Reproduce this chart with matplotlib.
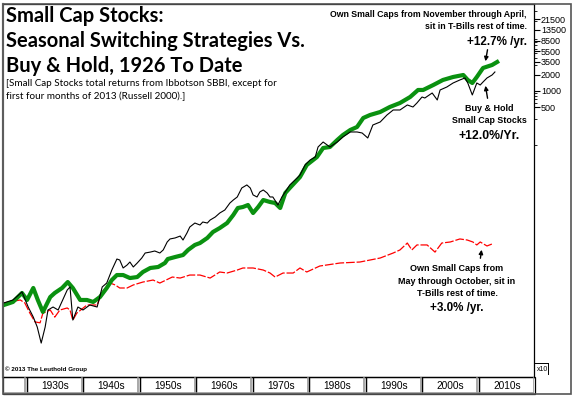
import matplotlib
matplotlib.use("Agg")
import matplotlib.pyplot as plt
from matplotlib.patches import Rectangle
from matplotlib.ticker import FixedLocator, NullFormatter

# growth of $1 (right-axis labels are shown x10)
bh_years = [1926.0, 1927.6, 1929.2, 1930.3, 1931.2, 1931.9, 1932.6, 1933.3, 1933.8, 1934.7,
            1935.6, 1937.2, 1937.7, 1938.2, 1939.1, 1940.0, 1941.2, 1942.5, 1943.4, 1944.2,
            1945.1, 1946.0, 1946.5, 1947.1, 1947.8, 1948.3, 1948.9, 1949.6, 1950.4, 1951.0,
            1951.9, 1952.7, 1953.6, 1954.2, 1954.9, 1955.4, 1956.3, 1957.2, 1957.7, 1958.4,
            1958.9, 1959.8, 1960.7, 1961.2, 1962.0, 1962.5, 1963.4, 1964.2, 1965.1, 1966.0,
            1966.6, 1967.3, 1968.1, 1969.0, 1969.6, 1970.1, 1970.8, 1971.3, 1971.9, 1972.6,
            1973.1, 1973.6, 1974.5, 1975.2, 1975.8, 1976.6, 1977.9, 1978.4, 1979.3, 1980.2,
            1981.1, 1981.6, 1982.5, 1983.7, 1985.0, 1986.0, 1987.3, 1988.5, 1989.4, 1990.4,
            1991.3, 1992.6, 1993.8, 1994.9, 1996.1, 1997.4, 1998.4, 1999.1, 2000.0, 2000.5,
            2001.8, 2002.7, 2003.2, 2004.4, 2005.5, 2006.7, 2007.6, 2008.1, 2008.9, 2009.7,
            2010.3, 2010.8, 2011.5, 2012.4, 2012.9]
bh_values = [1.19, 1.35, 1.90, 1.00, 0.652, 0.426, 0.215, 0.426, 0.880, 1.00,
             0.880, 2.06, 2.35, 0.574, 1.00, 0.880, 1.09, 1.00, 2.35, 2.78,
             4.84, 7.74, 7.42, 5.28, 5.99, 6.81, 5.51, 6.53, 8.08, 10.0,
             10.4, 10.9, 10.0, 11.4, 16.0, 18.2, 19.0, 20.6, 17.4, 23.5,
             30.3, 35.9, 33.0, 37.5, 35.9, 40.8, 46.4, 55.0, 62.6, 84.3,
             95.8, 109, 160, 182, 160, 119, 109, 135, 147, 129,
             109, 109, 77.4, 109, 135, 182, 245, 278, 426, 528,
             599, 918, 1136, 918, 1136, 1407, 1742, 1742, 1668, 1348,
             2346, 2667, 3594, 4448, 4448, 5508, 5054, 5995, 7743, 7413,
             9180, 6813, 10440, 11860, 14060, 15990, 17410, 14060, 8437, 14060,
             12910, 14680, 17410, 19780, 22480]

winter_years = [1926.0, 1927.6, 1929.2, 1930.1, 1931.2, 1932.0, 1932.9, 1934.2, 1935.0, 1936.3,
                1937.3, 1938.2, 1939.5, 1940.7, 1941.8, 1943.0, 1944.2, 1945.1, 1946.0, 1947.1,
                1948.3, 1949.6, 1950.6, 1951.9, 1953.3, 1954.5, 1955.0, 1956.3, 1957.7, 1958.6,
                1959.8, 1960.7, 1962.0, 1963.0, 1964.2, 1965.5, 1966.6, 1967.4, 1968.3, 1969.2,
                1970.1, 1971.0, 1971.9, 1973.1, 1974.0, 1974.9, 1975.8, 1976.6, 1978.4, 1979.6,
                1981.4, 1982.5, 1983.7, 1985.0, 1986.0, 1987.3, 1988.5, 1989.6, 1990.8, 1992.6,
                1994.3, 1996.1, 1997.9, 1999.3, 2000.2, 2002.0, 2003.7, 2005.5, 2007.3, 2008.1,
                2008.9, 2009.7, 2010.8, 2012.4, 2013.3]
winter_values = [1.09, 1.24, 1.82, 1.35, 2.25, 1.35, 0.81, 1.53, 1.82, 2.25,
                 2.90, 2.25, 1.35, 1.35, 1.24, 1.53, 2.25, 3.16, 3.91, 3.91,
                 3.44, 3.59, 4.45, 5.28, 5.51, 6.53, 7.74, 8.43, 9.18, 11.4,
                 14.1, 15.3, 19.0, 24.5, 29.0, 35.9, 50.6, 68.1, 71.1, 77.4,
                 55.0, 71.1, 95.8, 88.0, 84.3, 68.1, 129, 160, 255, 426,
                 599, 880, 918, 1238, 1531, 1896, 2154, 3162, 3594, 4084,
                 5054, 5995, 7743, 10440, 10440, 12910, 15990, 18160, 19780, 15990,
                 14060, 18160, 26670, 30300, 34440]

summer_years = [1926.0, 1928.9, 1929.7, 1930.6, 1931.5, 1932.4, 1932.9, 1934.2, 1935.0, 1935.9,
                1937.2, 1937.7, 1938.2, 1938.9, 1940.7, 1942.5, 1943.4, 1944.8, 1945.7, 1946.5,
                1947.8, 1948.9, 1950.6, 1952.4, 1953.6, 1955.8, 1957.2, 1958.9, 1960.7, 1962.5,
                1964.2, 1965.5, 1967.3, 1968.3, 1970.1, 1971.9, 1973.1, 1974.0, 1975.4, 1977.2,
                1978.4, 1979.6, 1981.9, 1985.5, 1989.0, 1992.6, 1994.9, 1996.1, 1997.4, 1998.2,
                1999.1, 2000.9, 2002.3, 2003.5, 2005.0, 2006.7, 2008.0, 2009.0, 2009.7, 2010.3,
                2011.5, 2012.4]
summer_values = [1.19, 1.35, 1.19, 0.77, 0.53, 0.51, 0.77, 0.88, 0.65, 0.88,
                 0.96, 0.88, 0.57, 0.77, 1.09, 1.09, 1.90, 2.78, 2.56, 2.25,
                 2.25, 2.56, 2.90, 3.16, 2.78, 3.59, 3.44, 3.91, 3.91, 3.44,
                 4.45, 4.26, 4.84, 5.28, 5.28, 4.84, 4.26, 3.59, 4.26, 4.26,
                 5.28, 4.45, 5.74, 6.53, 6.81, 8.08, 10.0, 11.4, 15.3, 11.4,
                 14.1, 14.1, 10.4, 15.3, 16.0, 18.2, 17.4, 16.0, 14.1, 16.0,
                 13.5, 14.7]

tick_labels = ["500", "1000", "2000", "3500", "5500", "8500", "13500", "21500"]
decades = ["1930s", "1940s", "1950s", "1960s", "1970s", "1980s", "1990s", "2000s", "2010s"]

assert len(bh_years) == len(bh_values)
assert len(winter_years) == len(winter_values)
assert len(summer_years) == len(summer_values)

W, H = 574, 397
fig = plt.figure(figsize=(W / 100, H / 100), dpi=100)
plt.rcParams["font.family"] = ["Liberation Sans", "DejaVu Sans"]

x0, x1 = 1925.84, 2019.82
ax = fig.add_axes([3 / W, 1 - 377 / H, 531 / W, 373 / H])
ax.plot(summer_years, summer_values, color="#ff0000", lw=0.9, dashes=(7, 1.5), zorder=2)
ax.plot(winter_years, winter_values, color="#0a9110", lw=3.0, zorder=3)
ax.plot(bh_years, bh_values, color="black", lw=0.8, zorder=4)
ax.set_yscale("log")
ax.set_xlim(x0, x1)
ax.set_ylim(0.0506, 408000)
ax.set_xticks([])

# right axis, labels in x10 units
ax.yaxis.tick_right()
major = [float(t) * 10 for t in tick_labels]
ax.yaxis.set_major_locator(FixedLocator(major))
ax.set_yticklabels(tick_labels)
minor = [1000, 3000] + [m * 10 ** k for k in (3, 4, 5) for m in range(2, 10)
                        if 5000 < m * 10 ** k < 400000]
ax.yaxis.set_minor_locator(FixedLocator(minor))
ax.yaxis.set_minor_formatter(NullFormatter())
ax.tick_params(axis="y", which="major", direction="out", length=4, width=0.8,
               labelsize=6.5, pad=1)
ax.tick_params(axis="y", which="minor", direction="out", length=2.5, width=0.6)
for s in ("top", "right", "bottom"):
    ax.spines[s].set_color("black")
    ax.spines[s].set_linewidth(0.9)
ax.spines["left"].set_color("#888888")
ax.spines["left"].set_linewidth(1.6)

# title block
title_font = ["Lato", "DejaVu Sans"]
for txt, yy in [("Small Cap Stocks:", 22), ("Seasonal Switching Strategies Vs.", 47),
                ("Buy & Hold, 1926 To Date", 72)]:
    fig.text(6 / W, 1 - yy / H, txt, fontsize=14.5, fontweight="bold", family=title_font,
             va="baseline", ha="left")
fig.text(6 / W, 1 - 86 / H, "[Small Cap Stocks total returns from Ibbotson SBBI, except for",
         fontsize=7.1, family=title_font, va="baseline")
fig.text(6 / W, 1 - 99 / H, "first four months of 2013 (Russell 2000).]",
         fontsize=7.1, family=title_font, va="baseline")
fig.text(5 / W, 1 - 371 / H, "\u00a9 2013 The Leuthold Group", fontsize=4.5,
         fontweight="bold", va="baseline")


def note(x, y, s, size=6.5, ha="center"):
    fig.text(x / W, 1 - y / H, s, fontsize=size, fontweight="bold", ha=ha, va="baseline")


note(527, 17, "Own Small Caps from November through April,", size=6.3, ha="right")
note(527, 29, "sit in T-Bills rest of time.", size=6.3, ha="right")
note(527, 45, "+12.7% /yr.", size=8.4, ha="right")
note(489, 111, "Buy & Hold", size=6.5)
note(489, 123, "Small Cap Stocks", size=6.4)
note(489, 139, "+12.0%/Yr.", size=8.8)
note(457, 271, "Own Small Caps from", size=6.5)
note(457, 284, "May through October, sit in", size=6.5)
note(457, 296, "T-Bills rest of time.", size=6.5)
note(457, 311, "+3.0% /yr.", size=8.4)

arrow = dict(arrowstyle="-|>", color="black", lw=1.0, mutation_scale=6)
for (xs, ys), (xe, ye) in [((488, 47), (485, 64)), ((488, 101), (485, 83)),
                           ((480, 261), (482, 247))]:
    ax.annotate("", xy=(xe / W, 1 - ye / H), xytext=(xs / W, 1 - ys / H),
                xycoords="figure fraction", textcoords="figure fraction",
                arrowprops=arrow)

# x10 box
fig.text(537 / W, 1 - 371 / H, "x10", fontsize=5, va="baseline")
fig.add_artist(plt.Line2D([535 / W, 548 / W], [1 - 363 / H, 1 - 363 / H], color="black", lw=0.7))
fig.add_artist(plt.Line2D([548 / W, 548 / W], [1 - 363 / H, 1 - 374 / H], color="black", lw=0.7))

# decade strip
tax = fig.add_axes([3 / W, 1 - 394 / H, 531 / W, 17 / H])
tax.set_xlim(x0, x1)
tax.set_ylim(0, 1)
tax.axis("off")
edges = [x0] + [1930 + 10 * i for i in range(len(decades) + 1)]
for i in range(len(edges) - 1):
    tax.add_patch(Rectangle((edges[i], 0), edges[i + 1] - edges[i], 1, fill=False,
                            edgecolor="black", lw=0.9, clip_on=False))
    tax.plot([edges[i] + 0.15, edges[i + 1] - 0.15], [0.04, 0.04], color="#9a9a9a", lw=1.2)
    tax.plot([edges[i + 1] - 0.2, edges[i + 1] - 0.2], [0.04, 0.96], color="#9a9a9a", lw=1.2)
for i, lab in enumerate(decades):
    tax.text(1935 + 10 * i, 0.45, lab, ha="center", va="center", fontsize=7.3)

# outer frame
fig.add_artist(Rectangle((3 / W, 1 - 394 / H), 568 / W, 390 / H, fill=False,
                         edgecolor="#555555", lw=1.2, transform=fig.transFigure))

fig.savefig("out.png", dpi=100)
